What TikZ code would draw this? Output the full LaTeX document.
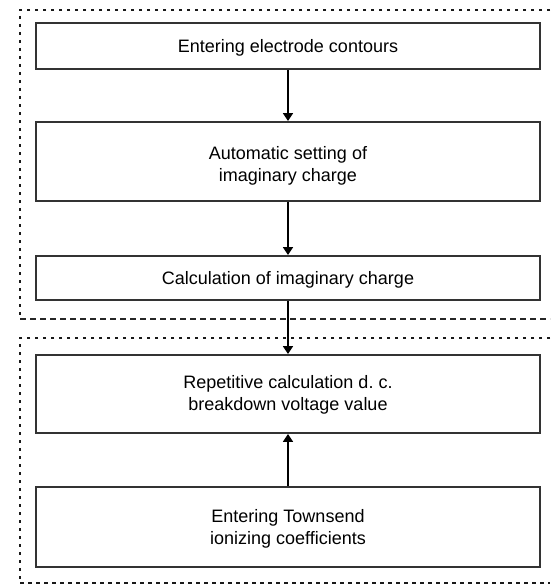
\documentclass[tikz,border=0pt]{standalone}
\usepackage{fontspec}
\setmainfont{Liberation Sans}
\usetikzlibrary{arrows.meta}
\begin{document}
\begin{tikzpicture}[x=1pt,y=-1pt,
  flowbox/.style={draw=black!80, line width=1.9pt, fill=white, minimum width=504pt, inner sep=0pt},
  flowtext/.style={align=center, inner sep=0pt, font=\fontsize{18}{22}\selectfont},
  flowarrow/.style={line width=1.6pt, -{Triangle[width=10pt,length=8pt]}},
  dotborder/.style={line width=2.8pt, dash pattern=on 3pt off 5pt, black!90},
  midborder/.style={line width=1.5pt, dash pattern=on 6pt off 4pt, black!85},
  lowborder/.style={line width=2.8pt, dash pattern=on 4pt off 4pt, black!90}]
\useasboundingbox (0,0) rectangle (550,586);
% group borders
\draw[dotborder] (550,10) -- (20,10) -- (20,319);
\draw[midborder] (20,319) -- (550,319);
\draw[dotborder] (550,338) -- (20,338) -- (20,583);
\draw[lowborder] (20,583) -- (550,583);
% boxes
\node[flowbox, minimum height=46pt] (b1) at (288,46) {};
\node[flowbox, minimum height=79pt] (b2) at (288,161.5) {};
\node[flowbox, minimum height=44pt] (b3) at (288,278) {};
\node[flowbox, minimum height=78pt] (b4) at (288,394) {};
\node[flowbox, minimum height=80pt] (b5) at (288,527) {};
% texts
\node[flowtext] (t1) at ([yshift=-2pt]b1.center) {Entering electrode contours};
\node[flowtext] (t2) at ([yshift=-4pt]b2.center) {Automatic setting of\\imaginary charge};
\node[flowtext] (t3) at ([yshift=-2pt]b3.center) {Calculation of imaginary charge};
\node[flowtext] (t4) at ([yshift=-1pt]b4.center) {Repetitive calculation d.\ c.\\breakdown voltage value};
\node[flowtext] (t5) at ([yshift=-2pt]b5.center) {Entering Townsend\\ionizing coefficients};
% arrows
\draw[flowarrow] (b1.south) -- (b2.north);
\draw[flowarrow] (b2.south) -- (b3.north);
\draw[flowarrow] (b3.south) -- (b4.north);
\draw[flowarrow] (b5.north) -- (b4.south);
\end{tikzpicture}
\end{document}
